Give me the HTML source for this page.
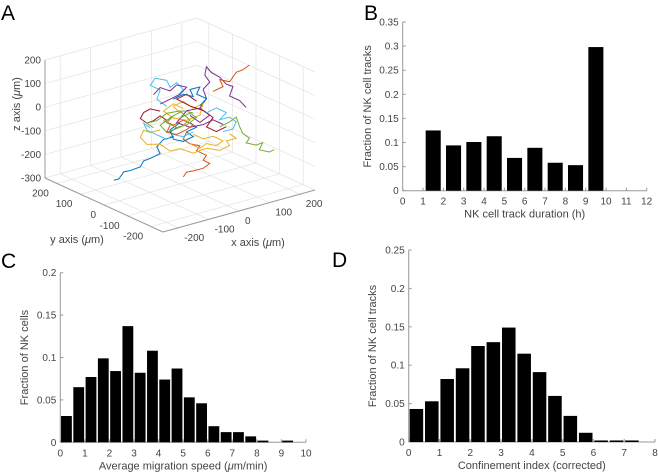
<!DOCTYPE html>
<html><head><meta charset="utf-8">
<style>
html,body{margin:0;padding:0;background:#fff;}
svg{display:block;font-family:"Liberation Sans",sans-serif;}
.tk{font-size:10px;fill:#444;}
.al{font-size:11px;fill:#444;}
.pl{font-size:21px;fill:#000;}
</style></head>
<body>
<svg id="fig" width="658" height="474" viewBox="0 0 658 474" xmlns="http://www.w3.org/2000/svg">
<text class="pl" x="1" y="20">A</text>
<text class="pl" x="364" y="20">B</text>
<text class="pl" x="1" y="268">C</text>
<text class="pl" x="332" y="267">D</text>
<g id="pa"></g>
<g id="pb"></g>
<g id="pc"></g>
<g id="pd"></g>
</svg>
<script>
// Panel B data
const bCats = [1,2,3,4,5,6,7,8,9];
const bVals = [0.125,0.094,0.101,0.113,0.068,0.089,0.058,0.053,0.298];
const bXTicks = [0,1,2,3,4,5,6,7,8,9,10,11,12];
const bYTicks = [0,0.05,0.1,0.15,0.2,0.25,0.3,0.35];
// Panel C data
const cBinStarts = [0,0.5,1,1.5,2,2.5,3,3.5,4,4.5,5,5.5,6,6.5,7,7.5,8,8.5,9];
const cVals = [0.031,0.065,0.077,0.099,0.084,0.137,0.082,0.108,0.074,0.087,0.053,0.046,0.019,0.012,0.012,0.007,0.002,0,0.002];
const cXTicks = [0,1,2,3,4,5,6,7,8,9,10];
const cYTicks = [0,0.05,0.1,0.15,0.2];
// Panel D data
const dBinStarts = [0,0.5,1,1.5,2,2.5,3,3.5,4,4.5,5,5.5,6,6.5,7];
const dVals = [0.043,0.053,0.082,0.096,0.125,0.130,0.149,0.115,0.091,0.060,0.034,0.012,0.002,0.002,0.002];
const dXTicks = [0,1,2,3,4,5,6,7,8];
const dYTicks = [0,0.05,0.1,0.15,0.2,0.25];
// Panel A tick labels
const aXTicks = [-200,-100,0,100,200];
const aYTicks = [-200,-100,0,100,200];
const aZTicks = [-300,-200,-100,0,100,200];
// Panel A tracks: each point is [h, z]; h is position along the screen-horizontal direction (x = 0.7h, y = -0.5h), µm
const trackColors = ["#0072BD","#D95319","#EDB120","#7E2F8E","#77AC30","#4DBEEE","#A2142F"];
const tracks = [
 [[-10,-60],[-30,-80],[-20,-100],[-50,-110],[-70,-140],[-60,-170],[-90,-190],[-110,-200],[-120,-225],[-150,-240],[-170,-245],[-185,-275],[-200,-280]],
 [[20,-80],[10,-110],[30,-130],[60,-140],[50,-160],[80,-180],[70,-200],[90,-215],[70,-235],[40,-245],[20,-250],[10,-270]],
 [[-60,-70],[-90,-80],[-110,-70],[-120,-100],[-100,-130],[-60,-130],[-30,-160],[0,-150],[40,-170],[80,-150],[120,-160],[150,-140],[140,-120],[170,-110],[150,-90]],
 [[60,20],[80,60],[70,100],[90,130],[75,160],[80,195],[95,170],[120,150],[140,120],[160,110],[150,70],[180,50],[200,20]],
 [[120,-60],[150,-40],[170,-20],[180,-60],[190,-90],[210,-110],[200,-130],[230,-140],[250,-130],[240,-160],[270,-170],[285,-160]],
 [[-40,30],[-70,60],[-60,100],[-90,120],[-75,150],[-40,140],[-30,110],[-10,130],[10,100],[-10,70]],
 [[-60,10],[-90,20],[-110,5],[-120,-20],[-100,-40],[-80,-30],[-60,-10],[-40,-30],[-20,-10]],
 [[0,-40],[-30,-70],[-20,-110],[10,-120],[40,-100],[20,-80],[50,-60],[30,-40]],
 [[100,90],[130,110],[120,140],[150,130],[170,170],[190,180],[210,200]],
 [[0,0],[-20,30],[10,50],[40,20],[70,40],[60,-10],[20,-30],[-20,-20],[-50,10],[-20,40],[10,20]],
 [[30,-10],[60,-40],[90,-10],[60,20],[20,10],[-10,-40],[30,-60],[70,-50],[100,-30],[130,-50]],
 [[-30,-20],[-60,-50],[-40,-80],[0,-60],[30,-30],[0,10],[-40,0],[-70,-30],[-100,-40],[-80,-60]],
 [[-90,-60],[-110,-40],[-100,-70],[-70,-90],[-40,-110],[-20,-90],[10,-100],[40,-80]],
 [[50,50],[20,80],[-10,60],[30,30],[70,10],[100,-20],[80,-60],[110,-80],[140,-60]],
 [[-20,60],[10,80],[40,70],[30,100],[60,110],[50,80],[80,60],[60,30]],
 [[-50,-30],[-20,-50],[10,-30],[40,-50],[20,-70],[-10,-90],[-40,-80],[-30,-50]],
 [[40,-90],[70,-110],[100,-100],[130,-120],[110,-140],[80,-130],[60,-150],[30,-130]],
 [[-80,80],[-60,110],[-30,95],[-10,120],[20,110],[0,80],[-30,60],[-60,40]],
 [[0,-20],[30,0],[50,-20],[20,-50],[-10,-60],[-40,-40],[-20,-10],[10,10],[40,0]],
 [[80,0],[110,20],[140,0],[120,-30],[150,-20],[170,-40],[160,-70],[130,-80]]
];

const NS="http://www.w3.org/2000/svg";
function mk(parent,tag,attrs){const e=document.createElementNS(NS,tag);for(const k in attrs)e.setAttribute(k,attrs[k]);parent.appendChild(e);return e;}

function hist(gid,cfg){
  const g=document.getElementById(gid);
  const sx=v=>cfg.x0+(v-cfg.xmin)/(cfg.xmax-cfg.xmin)*(cfg.x1-cfg.x0);
  const sy=v=>cfg.y0-(v-cfg.ymin)/(cfg.ymax-cfg.ymin)*(cfg.y0-cfg.y1);
  const ax=mk(g,'line',{x1:cfg.x0,y1:cfg.y0,x2:cfg.x1,y2:cfg.y0,stroke:'#999','stroke-width':1});
  
  
  const ay=mk(g,'line',{x1:cfg.x0,y1:cfg.y0,x2:cfg.x0,y2:cfg.y1,stroke:'#999','stroke-width':1});
  
  
  cfg.xt.forEach(t=>{
    const x=sx(t);
    mk(g,'line',{x1:x,y1:cfg.y0,x2:x,y2:cfg.y0-3,stroke:'#999'});
    const tx=mk(g,'text',{x:x,y:cfg.y0+14,'text-anchor':'middle',class:'tk'});
    tx.textContent=t;
    
    
  });
  cfg.yt.forEach(t=>{
    const y=sy(t);
    mk(g,'line',{x1:cfg.x0,y1:y,x2:cfg.x0+3,y2:y,stroke:'#999'});
    const tx=mk(g,'text',{x:cfg.x0-4,y:y+3.5,'text-anchor':'end',class:'tk'});
    tx.textContent=t;
    
    
  });
  cfg.starts.forEach((s,i)=>{
    const xa=sx(s+cfg.w*cfg.pad), xb=sx(s+cfg.w*(1-cfg.pad));
    const r=mk(g,'rect',{x:xa,y:sy(cfg.vals[i]),width:xb-xa,height:sy(0)-sy(cfg.vals[i]),fill:'#000'});
    
    
  });
  const xl=mk(g,'text',{x:(cfg.x0+cfg.x1)/2,y:cfg.y0+27,'text-anchor':'middle',class:'al'});
  xl.innerHTML=cfg.xlab;
  
  
  const yl=mk(g,'text',{x:0,y:0,'text-anchor':'middle',class:'al',transform:`translate(${cfg.ylx},${(cfg.y0+cfg.y1)/2}) rotate(-90)`});
  yl.textContent=cfg.ylab;
  
  
}
hist('pb',{x0:402.7,x1:646.7,xmin:0,xmax:12,y0:190.7,y1:22,ymin:0,ymax:0.35,xt:bXTicks,yt:bYTicks,starts:bCats,vals:bVals,w:1,pad:0.13,xlab:'NK cell track duration (h)',ylab:'Fraction of NK cell tracks',ylx:371});
hist('pc',{x0:60.3,x1:306,xmin:0,xmax:10,y0:442.3,y1:272.7,ymin:0,ymax:0.2,xt:cXTicks,yt:cYTicks,starts:cBinStarts,vals:cVals,w:0.5,pad:0.06,xlab:'Average migration speed (<tspan font-style="italic">μ</tspan>m/min)',ylab:'Fraction of NK cells',ylx:28});
hist('pd',{x0:408.7,x1:655,xmin:0,xmax:8,y0:442,y1:250,ymin:0,ymax:0.25,xt:dXTicks,yt:dYTicks,starts:dBinStarts,vals:dVals,w:0.5,pad:0.06,xlab:'Confinement index (corrected)',ylab:'Fraction of NK cell tracks',ylx:376});

// Panel A 3D
(function(){
  const g=document.getElementById('pa');
  const P=(x,y,z)=>[163+0.304*(x+250)-0.236*(y+250), 232-0.084*(x+250)-0.108*(y+250)-0.236*(z+300)];
  const ln=(a,b,c,w)=>{const p=P(...a),q=P(...b);mk(g,'line',{x1:p[0],y1:p[1],x2:q[0],y2:q[1],stroke:c,'stroke-width':w||0.7});};
  const gc='#e2e2e2';
  const gv=[-200,-100,0,100,200], gz=[-300,-200,-100,0,100,200];
  gv.forEach(v=>{ln([v,250,-300],[v,250,200],gc);ln([v,-250,-300],[v,250,-300],gc);});
  gv.forEach(v=>{ln([250,v,-300],[250,v,200],gc);ln([-250,v,-300],[250,v,-300],gc);});
  gz.forEach(z=>{ln([-250,250,z],[250,250,z],gc);ln([250,-250,z],[250,250,z],gc);});
  ln([-250,250,-300],[-250,250,200],'#999',1);
  ln([-250,250,-300],[-250,-250,-300],'#999',1);
  ln([-250,-250,-300],[250,-250,-300],'#999',1);
  aZTicks.forEach(z=>{const p=P(-250,250,z);const t=mk(g,'text',{x:p[0]-4,y:p[1]+3.5,'text-anchor':'end',class:'tk'});t.textContent=z;
    
    });
  aYTicks.forEach(y=>{const p=P(-250,y,-300);const t=mk(g,'text',{x:p[0]-8,y:p[1]+13,'text-anchor':'end',class:'tk'});t.textContent=y;
    
    });
  aXTicks.forEach(x=>{const p=P(x,-250,-300);const t=mk(g,'text',{x:p[0]+6,y:p[1]+13,'text-anchor':'start',class:'tk'});t.textContent=x;
    
    });
  tracks.forEach((tr,i)=>{
    const pts=tr.map(p=>P(0.7*p[0],-0.5*p[0],p[1]).join(',')).join(' ');
    const pl=mk(g,'polyline',{points:pts,fill:'none',stroke:trackColors[i%trackColors.length],'stroke-width':1});
    
    
  });
  const zt=mk(g,'text',{transform:'translate(20,104) rotate(-90)','text-anchor':'middle',class:'al'});
  zt.innerHTML='z axis (<tspan font-style="italic">μ</tspan>m)';
  
  
  const yt=mk(g,'text',{x:77,y:243,'text-anchor':'middle',class:'al'});
  yt.innerHTML='y axis (<tspan font-style="italic">μ</tspan>m)';
  
  
  const xt=mk(g,'text',{x:258,y:246,'text-anchor':'middle',class:'al'});
  xt.innerHTML='x axis (<tspan font-style="italic">μ</tspan>m)';
  
  
})();
</script>
</body></html>
